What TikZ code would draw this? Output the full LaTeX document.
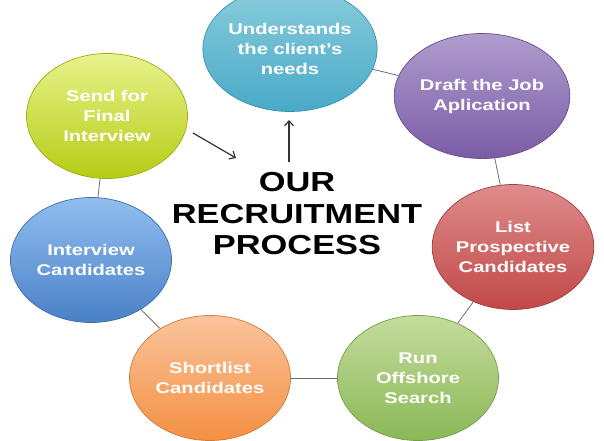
\documentclass[tikz,border=0pt]{standalone}
\usepackage{fontspec}
\usetikzlibrary{arrows.meta,positioning,shapes.geometric}
\newfontfamily\bubblefont[FakeStretch=1.3]{Liberation Sans}
\newfontfamily\titlefont[FakeStretch=1.25]{Liberation Sans}
\definecolor{CyanTop}{RGB}{138,204,220}
\definecolor{CyanBot}{RGB}{72,170,200}
\definecolor{PurpleTop}{RGB}{176,156,206}
\definecolor{PurpleBot}{RGB}{122,92,166}
\definecolor{RedTop}{RGB}{222,140,140}
\definecolor{RedBot}{RGB}{194,72,72}
\definecolor{GreenTop}{RGB}{196,220,156}
\definecolor{GreenBot}{RGB}{138,184,86}
\definecolor{OrangeTop}{RGB}{250,196,156}
\definecolor{OrangeBot}{RGB}{244,144,66}
\definecolor{BlueTop}{RGB}{144,190,240}
\definecolor{BlueBot}{RGB}{74,128,198}
\definecolor{LimeTop}{RGB}{232,242,140}
\definecolor{LimeBot}{RGB}{182,204,20}
\definecolor{LinkGray}{RGB}{110,110,110}

\begin{document}
\begin{tikzpicture}[x=1pt,y=-1pt,
    bubble/.style 2 args={ellipse, minimum width=161pt, minimum height=125pt,
        inner sep=0pt, top color=#1, bottom color=#2, draw=#2!85!black,
        line width=0.7pt, text=white, align=center,
        font=\bubblefont\bfseries\fontsize{15.5}{20}\selectfont},
    link/.style={LinkGray, line width=0.8pt},
    pointer/.style={black!80, line width=1.2pt, -{Straight Barb[length=5pt,width=9pt]}}]

    % Fix the page to the reference size
    \useasboundingbox (0,0) rectangle (604,440);

    % The seven steps round the circle
    \node[bubble={CyanTop}{CyanBot}] (needs) at (290,49) {Understands\\the client’s\\needs};
    \node[bubble={PurpleTop}{PurpleBot}] (draft) at (482,96) {Draft the Job\\Aplication};
    \node[bubble={RedTop}{RedBot}] (list) at (513,247) {List\\Prospective\\Candidates};
    \node[bubble={GreenTop}{GreenBot}] (search) at (418,378) {Run\\Offshore\\Search};
    \node[bubble={OrangeTop}{OrangeBot}] (shortlist) at (210,378) {Shortlist\\Candidates};
    \node[bubble={BlueTop}{BlueBot}] (interview) at (91,260) {Interview\\Candidates};
    \node[bubble={LimeTop}{LimeBot}] (final) at (107,116) {Send for\\Final\\Interview};

    % Title in the middle
    \node[align=center, font=\titlefont\bfseries\fontsize{27.5}{31.5}\selectfont]
        (title) at (297,214) {OUR\\RECRUITMENT\\PROCESS};

    % Thin links between neighbouring steps
    \foreach \a/\b in {needs/draft, draft/list, list/search, search/shortlist,
                       shortlist/interview, interview/final}
        \draw[link] (\a) -- (\b);

    % Arrows into and out of the title
    \coordinate (inA) at (193,133);
    \coordinate (inB) at (236,158);
    \coordinate (upA) at (289,162);
    \coordinate (upB) at (289,120);
    \draw[pointer] (inA) -- (inB);
    \draw[pointer] (upA) -- (upB);
\end{tikzpicture}
\end{document}
